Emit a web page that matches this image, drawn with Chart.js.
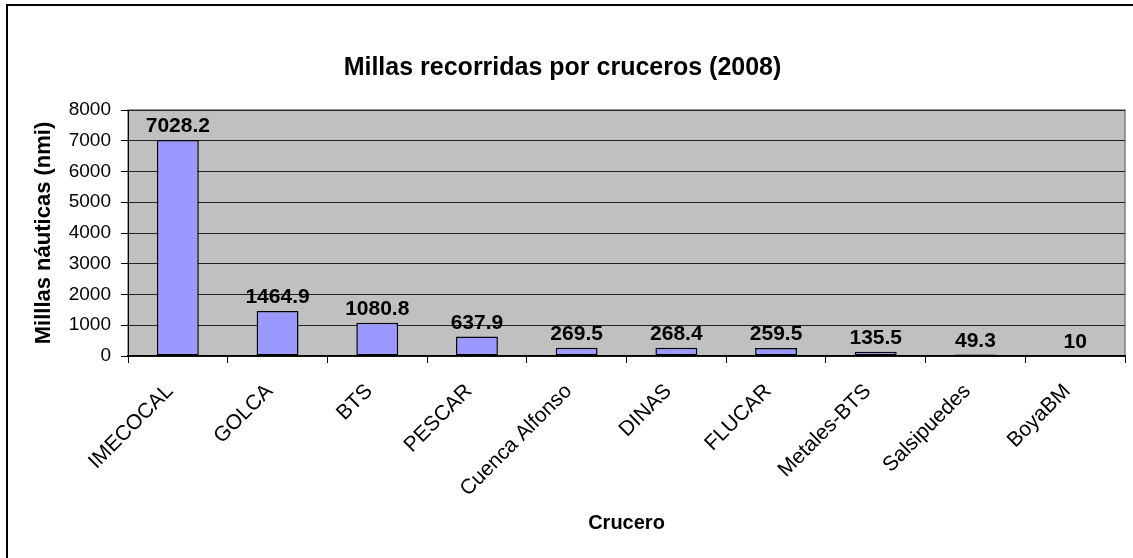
<!DOCTYPE html>
<html>
<head>
<meta charset="utf-8">
<script src="https://cdn.jsdelivr.net/npm/chart.js@4/dist/chart.umd.min.js"></script>
<style>
  html, body { margin: 0; padding: 0; background: #fff; }
  #wrap { width: 1133px; height: 558px; position: relative; }
</style>
</head>
<body>
<div id="wrap"><canvas id="millasChart" width="1133" height="558"></canvas></div>
<script>
// data
const cruceros = ['IMECOCAL', 'GOLCA', 'BTS', 'PESCAR', 'Cuenca Alfonso', 'DINAS', 'FLUCAR', 'Metales-BTS', 'Salsipuedes', 'BoyaBM'];
const millas = [7028.2, 1464.9, 1080.8, 637.9, 269.5, 268.4, 259.5, 135.5, 49.3, 10];
const yTicks = [0, 1000, 2000, 3000, 4000, 5000, 6000, 7000, 8000];

const FONT = '"Liberation Sans", Arial, sans-serif';

// gray plot area + outer frame, like the old Excel look
const plotBackground = {
  id: 'plotBackground',
  beforeDraw(chart) {
    const { ctx, chartArea: a } = chart;
    ctx.save();
    ctx.fillStyle = '#C0C0C0';
    ctx.fillRect(a.left, a.top, a.right - a.left, a.bottom - a.top);
    ctx.strokeStyle = '#808080';
    ctx.lineWidth = 1.5;
    ctx.strokeRect(a.left, a.top, a.right - a.left, a.bottom - a.top);
    // frame of the chart (only top/left visible in the picture)
    ctx.strokeStyle = '#000';
    ctx.lineWidth = 2;
    ctx.beginPath();
    ctx.moveTo(7, chart.height);
    ctx.lineTo(7, 5);
    ctx.lineTo(chart.width, 5);
    ctx.stroke();
    ctx.restore();
  }
};

// value labels on top of every bar
const barLabels = {
  id: 'barLabels',
  afterDatasetsDraw(chart) {
    const { ctx } = chart;
    const meta = chart.getDatasetMeta(0);
    ctx.save();
    ctx.font = 'bold 21px ' + FONT;
    ctx.fillStyle = '#000';
    ctx.textAlign = 'center';
    ctx.textBaseline = 'bottom';
    meta.data.forEach((bar, i) => {
      ctx.fillText(String(millas[i]), bar.x, bar.y - 3);
    });
    ctx.restore();
  }
};

new Chart(document.getElementById('millasChart'), {
  type: 'bar',
  data: {
    labels: cruceros,
    datasets: [{
      data: millas,
      backgroundColor: '#9999FF',
      borderColor: '#000',
      borderWidth: 1.5,
      borderSkipped: false,
      barPercentage: 0.42,
      categoryPercentage: 1
    }]
  },
  options: {
    responsive: false,
    animation: false,
    layout: { padding: { top: 0, right: 8, bottom: 0, left: 0 } },
    plugins: {
      legend: { display: false },
      tooltip: { enabled: false },
      title: {
        display: true,
        text: 'Millas recorridas por cruceros (2008)',
        color: '#000',
        font: { family: FONT, size: 25, weight: 'bold', lineHeight: 1.2 },
        padding: { top: 53, bottom: 27 }
      }
    },
    scales: {
      y: {
        min: 0,
        max: 8000,
        afterFit(scale) { scale.width = 128; },
        afterBuildTicks(scale) { scale.ticks = yTicks.map(v => ({ value: v })); },
        ticks: {
          color: '#000',
          font: { family: FONT, size: 19 },
          padding: 10,
          callback: (v) => String(v)
        },
        grid: {
          color: '#222',
          lineWidth: 1,
          tickLength: 7,
          tickColor: '#000'
        },
        border: { color: '#000', width: 1 },
        title: {
          display: true,
          text: 'Milllas náuticas (nmi)',
          color: '#000',
          font: { family: FONT, size: 22, weight: 'bold' },
          padding: { top: 31, bottom: 0 }
        }
      },
      x: {
        afterFit(scale) { scale.height = 202; },
        ticks: {
          color: '#000',
          font: { family: FONT, size: 21 },
          maxRotation: 45,
          minRotation: 45,
          padding: 16,
          labelOffset: -8,
          autoSkip: false
        },
        grid: {
          drawOnChartArea: false,
          tickLength: 7,
          tickColor: '#000',
          offset: true
        },
        border: { color: '#000', width: 1.5 },
        title: {
          display: true,
          text: 'Crucero',
          color: '#000',
          font: { family: FONT, size: 20, weight: 'bold' },
          padding: { top: 0, bottom: 23 }
        }
      }
    }
  },
  plugins: [plotBackground, barLabels]
});
</script>
</body>
</html>
